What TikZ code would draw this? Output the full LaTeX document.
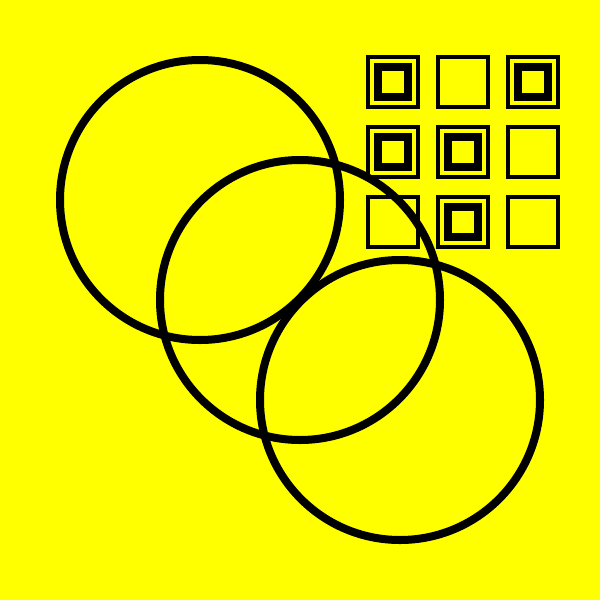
\documentclass[tikz,border=0pt]{standalone}
\definecolor{bgyellow}{RGB}{255,255,0}
\begin{document}
\begin{tikzpicture}[x=0.01cm, y=-0.01cm]

\tikzset{myring/.style={draw=black, line width=0.08cm}}
\tikzset{myframe/.style={draw=black, line width=0.04cm}}
\tikzset{mycore/.style={draw=black, line width=0.08cm}}

\fill[bgyellow] (0,0) rectangle (600,600);
\useasboundingbox (0,0) rectangle (600,600);

\draw[myring] (200,200) circle (140);
\draw[myring] (300,300) circle (140);
\draw[myring] (400,400) circle (140);

\draw[myframe] (368,57) rectangle (418,107);
\draw[myframe] (438,57) rectangle (488,107);
\draw[myframe] (508,57) rectangle (558,107);
\draw[myframe] (368,127) rectangle (418,177);
\draw[myframe] (438,127) rectangle (488,177);
\draw[myframe] (508,127) rectangle (558,177);
\draw[myframe] (368,197) rectangle (418,247);
\draw[myframe] (438,197) rectangle (488,247);
\draw[myframe] (508,197) rectangle (558,247);

\draw[mycore] (378,67) rectangle (408,97);
\draw[mycore] (518,67) rectangle (548,97);
\draw[mycore] (378,137) rectangle (408,167);
\draw[mycore] (448,137) rectangle (478,167);
\draw[mycore] (448,207) rectangle (478,237);

\end{tikzpicture}
\end{document}
